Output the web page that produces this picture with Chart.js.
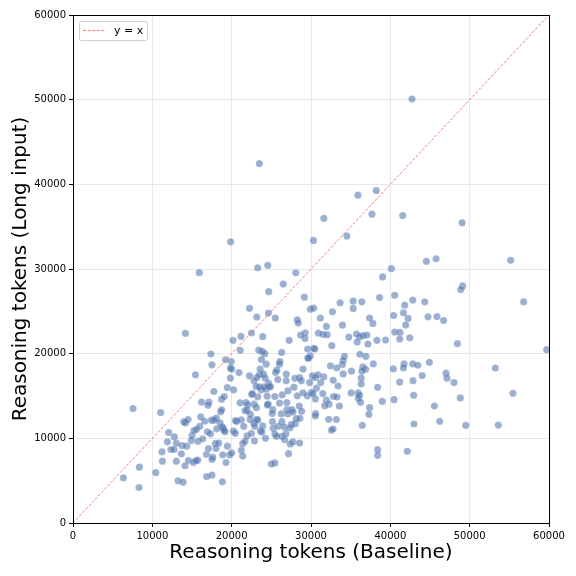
<!DOCTYPE html>
<html>
<head>
<meta charset="utf-8">
<script src="https://cdn.jsdelivr.net/npm/chart.js@4.4.1/dist/chart.umd.min.js"></script>
<style>
  html, body { margin: 0; padding: 0; background: #fff; }
  #wrap { width: 576px; height: 576px; }
</style>
</head>
<body>
<div id="wrap"><canvas id="chart" width="576" height="576"></canvas></div>
<script>
// --- Data ---
// x: reasoning tokens with the baseline prompt, y: same problem with long input
const baseline = [
    // upper sparse part
    42730, 23490, 35910, 38230, 37680, 41560, 49050, 31620, 34520, 30310, 19870, 23280, 24550, 28080, 40120, 44540, 45770, 55170,
    // 20k-30k, y 19k-30k
    15920, 14170, 26500, 24670, 22250, 23170, 24630, 25500, 22500, 23920, 21170, 20170, 21090, 23420, 23840, 24170, 26300, 27250, 17380, 19220,
    // 28k-45k, y 16k-29k
    29160, 29920, 30340, 28270, 28400, 29280, 28690, 29240, 31180, 31940, 32700, 33670, 35320, 35320, 36410, 33970, 30930, 31520, 32030, 34770,
    35740, 36120, 36540, 37050, 35820, 37170, 38310, 39410, 37380, 37800, 38650, 39030, 40550, 41810, 42830, 44340, 40420, 41650, 42240, 41940,
    40550, 41220, 41180, 42450, 29580, 30340, 30480, 32620, 29620, 29920, 34220, 34050, 36160, 36920, 33960, 33250, 37850, 36540, 36880, 36410,
    35100, 34050, 36330, 40380, 41730, 41650, 42830, 43470, 44020, 29830, 32800,
    // right side
    49120, 48870, 56810, 44750, 45880, 46720, 48450, 59710, 44920, 53240, 47020, 47140,
    // dense band around y 14k-19k
    21060, 21810, 22530, 22830, 23290, 23710, 24350, 24470, 24600, 24900, 25440, 26030, 26370, 26960, 27090, 27850, 28270, 28990, 29540, 30040,
    30680, 30550, 30250, 31480, 31940, 32830, 32280, 20250, 19450, 17760, 18730, 19070, 16200, 17130, 15440, 17510, 19960, 20000, 20930, 22240,
    22830, 23170, 23500, 23590, 24010, 24220, 24640, 23080, 22620, 23500, 24090, 24770, 25530, 25700, 25820, 26080, 26030, 26880, 26880, 27980,
    28570, 28990, 28780, 29660, 30170, 30550, 30890, 31230, 31610, 32450, 24350, 23760, 19840, 19840,
    // lower left
    7560, 11060, 6350, 8370, 8320, 10430, 13240, 13870, 16850, 17520, 18830, 11220, 11270, 11900, 12060, 12350, 12730, 12780, 13030, 13030,
    13660, 13740, 14120, 14330, 14550, 13950, 14170, 14500, 14920, 15000, 15180, 15470, 15720, 15250, 15550, 15760, 15970, 16100, 16350, 16600,
    16820, 16940, 17070, 17320, 17450, 17520, 17610, 17780, 17950, 18030, 18070, 18110, 18370, 18530, 18620, 18780, 18870, 18910, 19030, 19160,
    19290, 19460, 19750, 20000, 20220, 20470, 17020, 18740,
    // lower middle
    21220, 21390, 21390, 21690, 20460, 20630, 21220, 21520, 21690, 21940, 21940, 22030, 22320, 22360, 22490, 22870, 22790, 22910, 23120, 23120,
    23290, 23630, 23800, 23920, 24510, 24260, 25000, 25440, 25190, 25110, 25150, 25230, 25440, 25650, 25860, 26250, 26330, 26330, 26630, 26670,
    26960, 27170, 27080, 26840, 27340, 27380, 27510, 27590, 27720, 27720, 28020, 28140, 28520, 28610, 28560, 28820, 30590, 30540, 32240, 32570,
    32780, 33200, 33410, 33280, 33580, 35060, 35950, 36120, 35950, 36240, 36330, 36460, 37390, 37300, 38400, 38400, 38990, 40470, 38400, 31730,
    // lower right
    41180, 42860, 48030, 42940, 48820, 55460, 45550, 42980, 46220, 49500, 53610, 42140
];
const longInput = [
    50080, 42450, 38720, 39270, 36480, 36320, 35460, 35970, 33890, 33380, 33220, 30150, 30430, 29560, 30040, 30900, 31210, 31020,
    29570, 22400, 28230, 27320, 25350, 24330, 24800, 24210, 22440, 22010, 22040, 21570, 20390, 20430, 20270, 20000, 20150, 21570, 19960, 19280,
    26670, 25260, 25370, 24000, 23610, 22470, 22200, 21800, 24200, 23220, 24940, 26000, 26200, 25340, 26120, 23380, 22430, 22280, 22240, 21960,
    22320, 22000, 22120, 22200, 21380, 21140, 21570, 21610, 24200, 23570, 26630, 29060, 26900, 25730, 26320, 26120, 24510, 24820, 24160, 23380,
    22550, 22510, 21730, 21880, 20550, 20630, 20560, 20940, 19490, 19730, 19690, 19220, 19920, 19690, 18710, 18320, 18790, 18440, 18160, 17930,
    17930, 17610, 17100, 18200, 18790, 18320, 18790, 18630, 17420, 16590, 16850,
    28000, 27570, 26120, 24350, 24390, 23920, 21180, 20470, 18980, 18310, 17690, 17100,
    14190, 14230, 15180, 14030, 14900, 15730, 15810, 14980, 14030, 16120, 14940, 14150, 15140, 14230, 15610, 16040, 15020, 15370, 15020, 15410,
    15920, 14660, 15290, 15290, 14510, 14940, 14030, 15730, 16000, 15530, 14620, 14940, 14270, 14270, 17500, 18680, 19070, 18170, 17770, 17380,
    16790, 17180, 17500, 18170, 17580, 17100, 16510, 16120, 15290, 16080, 16080, 16080, 17770, 18050, 16950, 19070, 18760, 17580, 16790, 17070,
    17180, 18170, 16790, 19470, 17380, 17180, 17500, 16590, 17260, 18560, 18760, 19310, 18300, 17120,
    13520, 13050, 5340, 6590, 4190, 5960, 4980, 4820, 5490, 5650, 4860, 8410, 7300, 9590, 10690, 8680, 8680, 10180, 9430, 7300,
    8170, 9150, 6760, 9070, 7380, 11950, 11830, 12220, 9740, 10330, 7140, 7350, 7420, 10920, 11040, 9630, 11430, 12540, 9940, 12020,
    8090, 10770, 8800, 10530, 12140, 7500, 7770, 12140, 9390, 8800, 12380, 11120, 9430, 11830, 13130, 11360, 8050, 11240, 10960, 10770,
    7140, 9070, 8050, 8290, 10840, 12100, 13910, 13370,
    8580, 7910, 9370, 9650, 10590, 12010, 12170, 11420, 13270, 13310, 10280, 13940, 12210, 12840, 10590, 9690, 11770, 11420, 13620, 12210,
    12170, 10870, 10750, 11460, 13940, 10000, 6970, 7090, 13390, 12920, 11970, 11180, 10510, 10240, 11420, 12880, 11970, 10240, 11340, 9840,
    13390, 8190, 12880, 10550, 11220, 9330, 11610, 13390, 13110, 9570, 11730, 12320, 13820, 12360, 9450, 13190, 12920, 12640, 12250, 10950,
    11100, 12210, 16180, 14880, 13820, 15360, 15360, 15080, 14730, 14250, 16420, 11540, 13620, 12840, 8660, 7990, 14370, 14570, 16030, 13860,
    16650, 16810, 16580, 15080, 14770, 15320, 13820, 11690, 12010, 11540, 11570, 8460
];
const diagonal = [0, 60000];
const tickValues = [0, 10000, 20000, 30000, 40000, 50000, 60000];

// --- Chart ---
Chart.defaults.font.family = "'DejaVu Sans', sans-serif";
Chart.defaults.color = '#000';

const n = Math.min(baseline.length, longInput.length);
const points = [];
for (let i = 0; i < n; i++) points.push({ x: baseline[i], y: longInput[i] });

// matplotlib-like box round the axes
const frame = {
    id: 'frame',
    afterDraw(chart) {
        const { ctx, chartArea: a } = chart;
        ctx.save();
        ctx.strokeStyle = '#000';
        ctx.lineWidth = 1;
        ctx.strokeRect(Math.round(a.left) + 0.5, Math.round(a.top) + 0.5,
            Math.round(a.right - a.left), Math.round(a.bottom - a.top));
        ctx.restore();
    }
};

// legend drawn inside the axes, top left
const legendBox = {
    id: 'legendBox',
    afterDraw(chart) {
        const { ctx, chartArea: a } = chart;
        const ds = chart.data.datasets[1];
        const x = a.left + 6, y = a.top + 6, w = 68, h = 19;
        ctx.save();
        ctx.fillStyle = 'rgba(255,255,255,0.8)';
        ctx.strokeStyle = '#d0d0d0';
        ctx.lineWidth = 1;
        ctx.beginPath();
        ctx.roundRect(x + 0.5, y + 0.5, w, h, 2);
        ctx.fill();
        ctx.stroke();
        ctx.strokeStyle = ds.borderColor;
        ctx.lineWidth = 1;
        ctx.setLineDash(ds.borderDash);
        ctx.beginPath();
        ctx.moveTo(x + 4, y + 9.5);
        ctx.lineTo(x + 26, y + 9.5);
        ctx.stroke();
        ctx.setLineDash([]);
        ctx.fillStyle = '#000';
        ctx.font = "11px 'DejaVu Sans'";
        ctx.textBaseline = 'middle';
        ctx.fillText(ds.label, x + 35, y + 10);
        ctx.restore();
    }
};

const axisTicks = {
    afterBuildTicks: s => { s.ticks = tickValues.map(v => ({ value: v })); },
    ticks: { autoSkip: false, maxRotation: 0, font: { size: 10 }, color: '#000', padding: 3, callback: v => String(v) },
    grid: { color: '#e8e8e8', lineWidth: 1, tickColor: '#000', tickLength: 4 },
    border: { display: false }
};

new Chart(document.getElementById('chart').getContext('2d'), {
    type: 'scatter',
    data: {
        datasets: [
            {
                label: 'samples',
                data: points,
                backgroundColor: 'rgba(72,112,172,0.55)',
                borderColor: 'rgba(255,255,255,0.35)',
                borderWidth: 0.4,
                pointRadius: 3.6,
                order: 2
            },
            {
                type: 'line',
                label: 'y = x',
                data: diagonal.map(v => ({ x: v, y: v })),
                borderColor: 'rgba(235,80,65,0.7)',
                borderWidth: 1,
                borderDash: [3, 1.6],
                pointRadius: 0,
                fill: false,
                order: 1
            }
        ]
    },
    options: {
        responsive: false,
        animation: false,
        devicePixelRatio: 1,
        layout: { padding: { top: 15, right: 27, left: 0, bottom: 0 } },
        plugins: { legend: { display: false }, tooltip: { enabled: false } },
        scales: {
            x: {
                type: 'linear', min: 0, max: 60000,
                afterFit: s => { s.height = 53; },
                ...axisTicks,
                title: { display: true, text: 'Reasoning tokens (Baseline)', font: { size: 20 }, color: '#000', padding: { top: 0, bottom: 11 } }
            },
            y: {
                type: 'linear', min: 0, max: 60000,
                afterFit: s => { s.width = 73; },
                ...axisTicks,
                title: { display: true, text: 'Reasoning tokens (Long input)', font: { size: 20 }, color: '#000', padding: { top: 9, bottom: 0 } }
            }
        }
    },
    plugins: [frame, legendBox]
});
</script>
</body>
</html>
